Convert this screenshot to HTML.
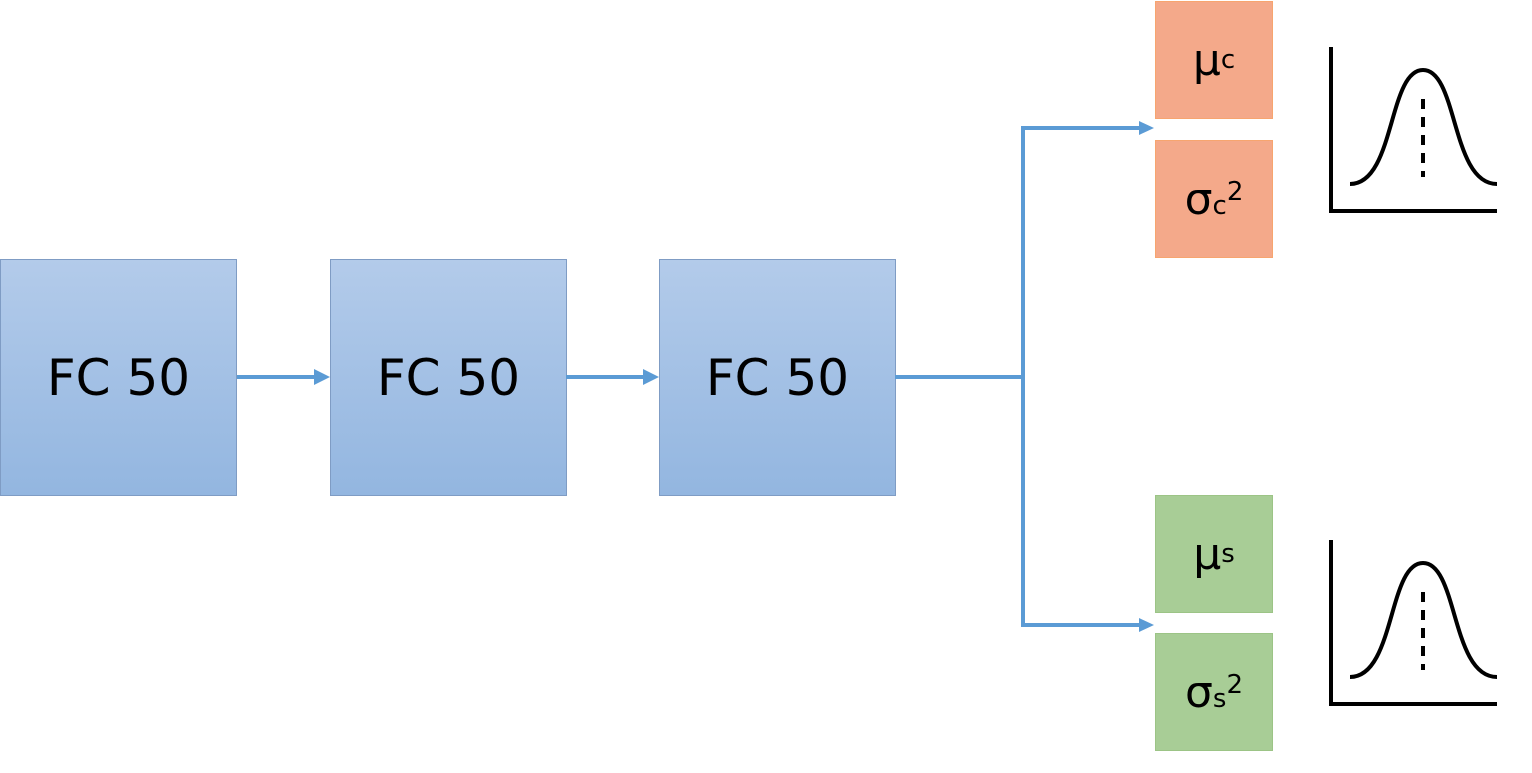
<!DOCTYPE html>
<html><head><style>
body{margin:0;width:1532px;height:773px;background:#fff;position:relative;overflow:hidden;font-family:"DejaVu Sans","Liberation Sans",sans-serif;}
.b{position:absolute;display:flex;align-items:center;justify-content:center;color:#000;box-sizing:border-box;}
.fc{width:237px;height:237px;top:259px;background:linear-gradient(#b3cbea,#93b6e0);border:1px solid #7f9cc4;font-size:50px;font-family:"DejaVu Sans",sans-serif;}
.o{width:118px;height:118px;left:1155px;background:#f4a98a;border:1px solid #f7a56f;font-size:44px;}
.g{width:118px;height:118px;left:1155px;background:#a8cd96;border:1px solid #9cc486;font-size:44px;}
sup{font-size:26px;vertical-align:20px;}
</style></head><body>
<div class="b fc" style="left:0">FC 50</div>
<div class="b fc" style="left:330px">FC 50</div>
<div class="b fc" style="left:659px">FC 50</div>
<div class="b o" style="top:1px">μ<sup>c</sup></div>
<div class="b o" style="top:140px">σ<sup>c<sup style="font-size:26px;vertical-align:14px">2</sup></sup></div>
<div class="b g" style="top:495px">μ<sup>s</sup></div>
<div class="b g" style="top:633px">σ<sup>s<sup style="font-size:26px;vertical-align:14px">2</sup></sup></div>
<svg width="1532" height="773" style="position:absolute;left:0;top:0">
<g stroke="#5b9bd5" stroke-width="4" fill="none">
<line x1="237" y1="377" x2="316" y2="377"/>
<line x1="566" y1="377" x2="646" y2="377"/>
<polyline points="895,377 1023,377"/>
<polyline points="1141,128 1023,128 1023,625 1141,625"/>
</g>
<g fill="#5b9bd5">
<polygon points="314,369 330,377 314,385"/>
<polygon points="643,369 659,377 643,385"/>
<polygon points="1139,121 1154,128 1139,135"/>
<polygon points="1139,618 1154,625 1139,632"/>
</g>
<g stroke="#000" stroke-width="4" fill="none">
<polyline points="1331,47 1331,211 1497,211"/>
<path d="M1350,184 C1395,184 1388,70 1423,70 C1458,70 1451,184 1497,184"/>
<line x1="1423" y1="99" x2="1423" y2="177" stroke-dasharray="10,8"/>
<polyline points="1331,540 1331,704 1497,704"/>
<path d="M1350,677 C1395,677 1388,563 1423,563 C1458,563 1451,677 1497,677"/>
<line x1="1423" y1="592" x2="1423" y2="670" stroke-dasharray="10,8"/>
</g>
</svg>
</body></html>
